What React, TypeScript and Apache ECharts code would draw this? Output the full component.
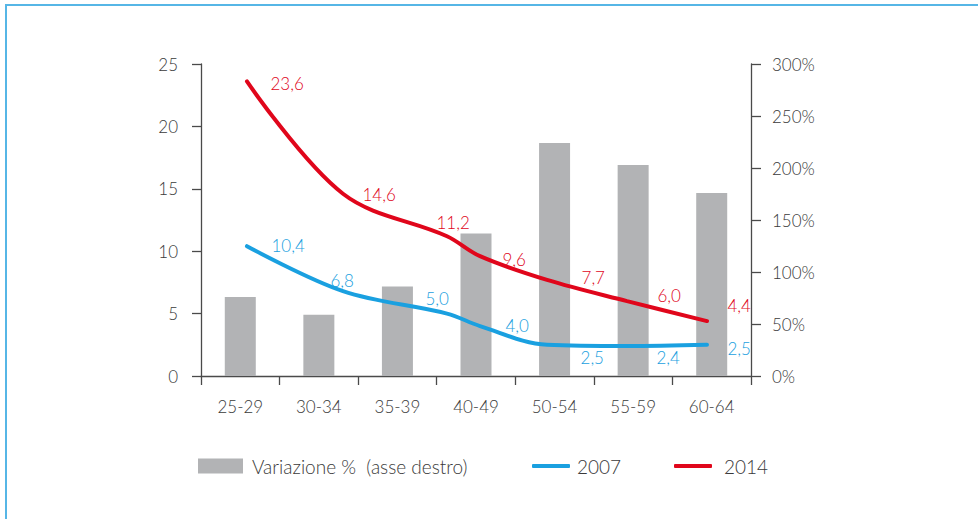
import React, { useEffect, useRef } from "react";
import * as echarts from "echarts";

const categories = ["25-29", "30-34", "35-39", "40-49", "50-54", "55-59", "60-64"];
const variazione = [76, 59, 86, 137, 224, 203, 176];
const values2007 = [10.4, 6.8, 5.0, 4.0, 2.5, 2.4, 2.5];
const values2014 = [23.6, 14.6, 11.2, 9.6, 7.7, 6.0, 4.4];
// where each line vertex sits along the category axis (in category widths)
const linePositions = [0.585, 1.807, 3.131, 3.551, 4.404, 5.422, 6.44];
const labelOffset2007 = [[24, -1], [-13, -11], [-22, -15], [25, -1], [33, 13], [29, 11], [20, 4]];
const labelOffset2014 = [[23, 2], [19, 1], [-11, -14], [22, 3], [34, -2], [30, -6], [20, -16]];
const barName = "Variazione %\u00a0\u00a0(asse destro)";

const FONT = "Lato";
const W = 300;
const TEXT = "#3a3a3a";
const AXIS = "#4a4a4a";
const GREY = "#b2b3b5";
const BLUE = "#1aa0e0";
const RED = "#e0061b";

const fmt = (v: number) => v.toFixed(1).replace(".", ",");

export default function App() {
  const ref = useRef<HTMLDivElement>(null);
  useEffect(() => {
    if (!ref.current) return;
    const chart = echarts.init(ref.current, undefined, { renderer: "svg" });
    const lineData = (vals: number[], offs: number[][]) =>
      vals.map((v, i) => ({ value: [linePositions[i], v], label: { offset: offs[i] } }));
    const textStyle = { fontFamily: FONT, fontWeight: W, fontSize: 19, color: TEXT, lineHeight: 22 };
    const axisLabel = { fontSize: 17, fontFamily: FONT, fontWeight: W, color: TEXT };
    chart.setOption({
      animation: false,
      backgroundColor: "#fff",
      textStyle: { fontFamily: FONT },
      graphic: [
        { type: "line", shape: { x1: 6, y1: 5, x2: 6, y2: 519 }, style: { stroke: "#56b6e6", lineWidth: 2 } },
        { type: "line", shape: { x1: 5, y1: 5, x2: 978, y2: 5 }, style: { stroke: "#56b6e6", lineWidth: 2 } },
      ],
      grid: { left: 201, right: 227, top: 64, bottom: 143, containLabel: false },
      legend: [
        {
          left: 198, top: 455, padding: 0, itemWidth: 45, itemHeight: 15, icon: "rect",
          data: [barName],
          textStyle: { ...textStyle, padding: [0, 0, 0, 4] },
        },
        {
          left: 532, top: 455, padding: 0, itemWidth: 38, itemHeight: 4, icon: "roundRect",
          data: ["2007"], textStyle: { ...textStyle, padding: [0, 0, 0, 2] },
        },
        {
          left: 674, top: 455, padding: 0, itemWidth: 38, itemHeight: 4, icon: "roundRect",
          data: ["2014"], textStyle: { ...textStyle, padding: [0, 0, 0, 7] },
        },
      ],
      xAxis: [
        {
          type: "category", data: categories, boundaryGap: true,
          axisLine: { lineStyle: { color: AXIS, width: 1.3 } },
          axisTick: { show: true, length: 9, lineStyle: { color: AXIS, width: 1.3 } },
          axisLabel: { ...axisLabel, margin: 22 },
          splitLine: { show: false },
        },
        { type: "value", min: 0, max: 7, show: false },
      ],
      yAxis: [
        {
          type: "value", min: 0, max: 25, interval: 5, position: "left",
          axisLine: { show: true, lineStyle: { color: AXIS, width: 1.3 } },
          axisTick: { show: true, length: 9, lineStyle: { color: AXIS, width: 1.3 } },
          axisLabel: { ...axisLabel, margin: 23 },
          splitLine: { show: false },
        },
        {
          type: "value", min: 0, max: 300, interval: 50, position: "right",
          axisLine: { show: true, lineStyle: { color: AXIS, width: 1.3 } },
          axisTick: { show: true, length: 10, lineStyle: { color: AXIS, width: 1.3 } },
          axisLabel: { ...axisLabel, margin: 21, formatter: "{value}%" },
          splitLine: { show: false },
        },
      ],
      series: [
        {
          name: barName, type: "bar", xAxisIndex: 0, yAxisIndex: 1,
          data: variazione, barWidth: 31, itemStyle: { color: GREY },
        },
        {
          name: "2007", type: "line", xAxisIndex: 1, yAxisIndex: 0, smooth: 0.35,
          data: lineData(values2007, labelOffset2007),
          symbol: "circle", symbolSize: 1, showSymbol: true,
          itemStyle: { color: BLUE },
          lineStyle: { color: BLUE, width: 4, cap: "round" },
          label: {
            show: true, position: "right", distance: 0, color: BLUE, fontSize: 17, fontFamily: FONT, fontWeight: W,
            formatter: (p: any) => fmt(p.value[1]),
          },
        },
        {
          name: "2014", type: "line", xAxisIndex: 1, yAxisIndex: 0, smooth: 0.35,
          data: lineData(values2014, labelOffset2014),
          symbol: "circle", symbolSize: 1, showSymbol: true,
          itemStyle: { color: RED },
          lineStyle: { color: RED, width: 4, cap: "round" },
          label: {
            show: true, position: "right", distance: 0, color: RED, fontSize: 17, fontFamily: FONT, fontWeight: W,
            formatter: (p: any) => fmt(p.value[1]),
          },
        },
      ],
    });
    return () => chart.dispose();
  }, []);
  return <div ref={ref} style={{ position: "fixed", left: 0, top: 0, width: 978, height: 519 }} />;
}
